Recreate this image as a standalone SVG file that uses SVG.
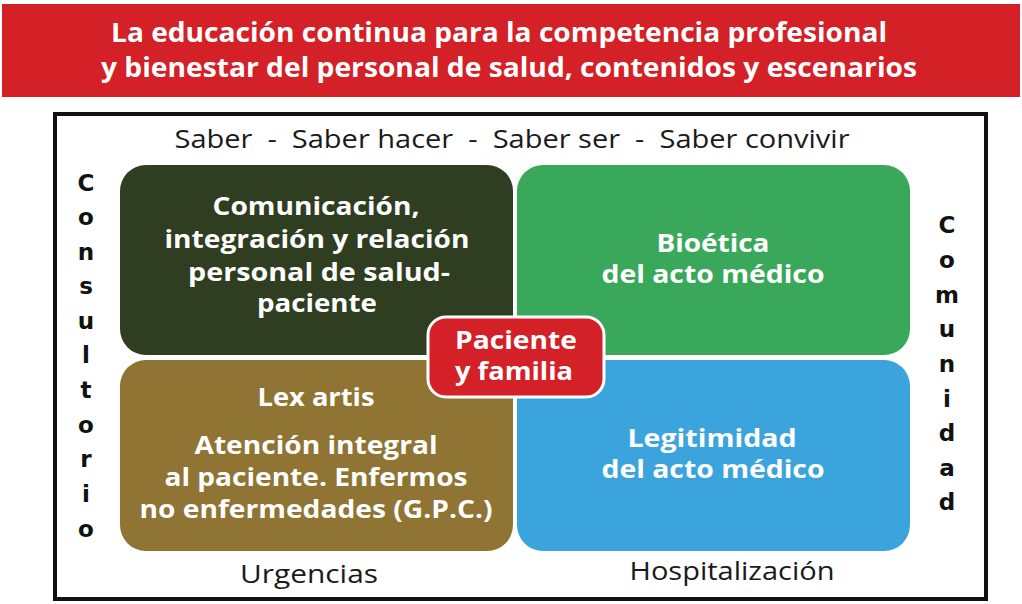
<svg xmlns="http://www.w3.org/2000/svg" width="1022" height="604" viewBox="0 0 1022 604">
<style>
.title{font-family:"Open Sans","Liberation Sans",sans-serif;font-weight:700;font-size:26px;fill:#fff;text-anchor:middle}
.box{font-family:"Open Sans","Liberation Sans",sans-serif;font-weight:700;font-size:25.5px;fill:#fff;text-anchor:middle}
.lbl{font-family:"Open Sans","Liberation Sans",sans-serif;font-weight:400;font-size:25px;fill:#1a1a1a;text-anchor:middle}
.vert{font-family:"DejaVu Sans","Open Sans",sans-serif;font-weight:700;font-size:23px;fill:#111;text-anchor:middle}
</style>
<rect width="1022" height="604" fill="#fff"/>
<g id="header">
<rect x="2" y="4" width="1018" height="93" fill="#d42027"/>
<text class="title" x="499" y="42" textLength="776" lengthAdjust="spacingAndGlyphs">La educación continua para la competencia profesional</text>
<text class="title" x="509" y="77" textLength="816" lengthAdjust="spacingAndGlyphs">y bienestar del personal de salud, contenidos y escenarios</text>
</g>
<g id="frame">
<rect x="55" y="114" width="931" height="485" fill="none" stroke="#111" stroke-width="4"/>
</g>
<g id="top-label"><text class="lbl" x="512" y="148" xml:space="preserve" style="white-space:pre" textLength="675" lengthAdjust="spacingAndGlyphs">Saber  -  Saber hacer  -  Saber ser  -  Saber convivir</text></g>
<g id="comunicacion">
<rect x="120" y="165" width="393" height="190" rx="26" fill="#2f3d20"/>
<text class="box" x="316" y="215" textLength="207" lengthAdjust="spacingAndGlyphs">Comunicación,</text>
<text class="box" x="317" y="248" textLength="305" lengthAdjust="spacingAndGlyphs">integración y relación</text>
<text class="box" x="319" y="281" textLength="262" lengthAdjust="spacingAndGlyphs">personal de salud-</text>
<text class="box" x="317" y="312" textLength="120" lengthAdjust="spacingAndGlyphs">paciente</text>
</g>
<g id="bioetica">
<rect x="517" y="165" width="393" height="190" rx="26" fill="#3aa85a"/>
<text class="box" x="713" y="252" textLength="113" lengthAdjust="spacingAndGlyphs">Bioética</text>
<text class="box" x="713" y="283" textLength="223" lengthAdjust="spacingAndGlyphs">del acto médico</text>
</g>
<g id="lexartis">
<rect x="120" y="360" width="393" height="191" rx="26" fill="#8f7433"/>
<text class="box" x="316" y="406" textLength="117" lengthAdjust="spacingAndGlyphs">Lex artis</text>
<text class="box" x="316" y="454" textLength="243" lengthAdjust="spacingAndGlyphs">Atención integral</text>
<text class="box" x="316" y="486" textLength="303" lengthAdjust="spacingAndGlyphs">al paciente. Enfermos</text>
<text class="box" x="316" y="518" textLength="353" lengthAdjust="spacingAndGlyphs">no enfermedades (G.P.C.)</text>
</g>
<g id="legitimidad">
<rect x="517" y="360" width="393" height="191" rx="26" fill="#3ba4dc"/>
<text class="box" x="712" y="447" textLength="169" lengthAdjust="spacingAndGlyphs">Legitimidad</text>
<text class="box" x="713" y="478" textLength="223" lengthAdjust="spacingAndGlyphs">del acto médico</text>
</g>
<g id="paciente">
<rect x="428" y="317" width="176" height="80" rx="18" fill="#d42027" stroke="#fff" stroke-width="3"/>
<text class="box" x="516" y="349" textLength="122" lengthAdjust="spacingAndGlyphs">Paciente</text>
<text class="box" x="514" y="380" textLength="118" lengthAdjust="spacingAndGlyphs">y familia</text>
</g>
<g id="consultorio">
<text class="vert" x="86" y="191">C</text>
<text class="vert" x="86" y="225">o</text>
<text class="vert" x="86" y="260">n</text>
<text class="vert" x="86" y="294">s</text>
<text class="vert" x="86" y="329">u</text>
<text class="vert" x="86" y="363">l</text>
<text class="vert" x="86" y="398">t</text>
<text class="vert" x="86" y="433">o</text>
<text class="vert" x="86" y="467">r</text>
<text class="vert" x="86" y="502">i</text>
<text class="vert" x="86" y="537">o</text>
</g>
<g id="comunidad">
<text class="vert" x="947" y="233">C</text>
<text class="vert" x="947" y="268">o</text>
<text class="vert" x="947" y="303">m</text>
<text class="vert" x="947" y="337">u</text>
<text class="vert" x="947" y="372">n</text>
<text class="vert" x="947" y="407">i</text>
<text class="vert" x="947" y="441">d</text>
<text class="vert" x="947" y="476">a</text>
<text class="vert" x="947" y="510">d</text>
</g>
<g id="urgencias"><text class="lbl" x="309" y="583" textLength="138" lengthAdjust="spacingAndGlyphs">Urgencias</text></g>
<g id="hospitalizacion"><text class="lbl" x="732" y="580" textLength="205" lengthAdjust="spacingAndGlyphs">Hospitalización</text></g>
</svg>
